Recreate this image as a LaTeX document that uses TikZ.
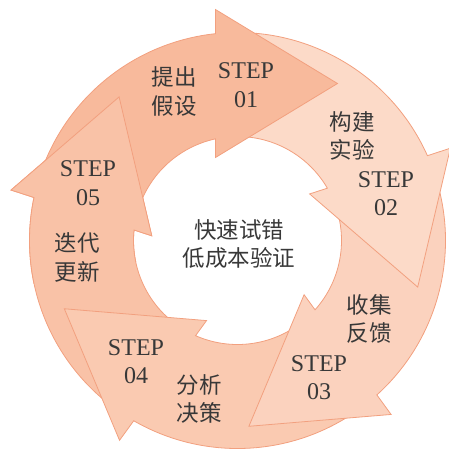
\documentclass[tikz,border=0pt]{standalone}
\usepackage{fontspec}
\setmainfont{Liberation Serif}
\newfontfamily\cjk{Noto Sans CJK SC}
\definecolor{aone}{HTML}{F8BA9C}
\definecolor{atwo}{HTML}{FCDAC8}
\definecolor{athree}{HTML}{FBD2BE}
\definecolor{afour}{HTML}{FACAB1}
\definecolor{afive}{HTML}{F9C2A7}
\definecolor{edgec}{HTML}{F2A07F}
\definecolor{txt}{HTML}{383838}
% one curved arrow of the cycle: #1 = angle of its head's tangent point, #2 = fill
\newcommand\cyclearrow[2]{%
  \pgfmathsetmacro\aT{#1+72}%
  \pgfmathsetmacro\aO{#1+6.07}%
  \pgfmathsetmacro\aI{#1+12.21}%
  \pgfmathsetmacro\aB{#1+5.44}%
  \pgfmathsetmacro\aP{#1-32.49}%
  \pgfmathsetmacro\aN{#1+14.85}%
  \path[ring, fill=#2, shift={(C)}]
    (\aT:208pt) arc[start angle=\aT, end angle=\aO, radius=208pt]
    -- (\aB:232.04pt) -- (\aP:186.14pt) -- (\aN:85.87pt)
    -- (\aI:104pt) arc[start angle=\aI, end angle=\aT, radius=104pt] -- cycle;
}
\begin{document}
\begin{tikzpicture}[x=1pt,y=1pt,
  ring/.style={draw=edgec, line width=0.8pt, line join=miter},
  steplbl/.style={font=\fontsize{24}{28.5}\selectfont, text=txt, align=center, inner sep=0pt},
  cnlbl/.style={font=\cjk\fontsize{22.5}{28.5}\selectfont, text=txt, align=center, inner sep=0pt}]
\useasboundingbox (0,0) rectangle (449,-448);
\coordinate (C) at (237.5,-240.5);
% arrows, each head lying over the tail of the next one
\cyclearrow{-198}{afive}
\cyclearrow{-126}{afour}
\cyclearrow{-54}{athree}
\cyclearrow{18}{atwo}
\cyclearrow{90}{aone}
% head of step 05 goes over the tail of step 01
\begin{scope}
  \clip[shift={(C)}] (0pt,0pt) -- (112:400pt) arc[start angle=112, end angle=192, radius=400pt] -- cycle;
  \cyclearrow{-198}{afive}
\end{scope}
% labels
\node[steplbl] (s1) at (246,-85) {STEP\\01};
\node[cnlbl]   (t1) at (174,-91.5) {提出\\假设};
\node[cnlbl]   (t2) at (352,-136) {构建\\实验};
\node[steplbl] (s2) at (386,-193.5) {STEP\\02};
\node[cnlbl]   (t3) at (369,-319) {收集\\反馈};
\node[steplbl] (s3) at (319,-377.5) {STEP\\03};
\node[steplbl] (s4) at (136,-361.5) {STEP\\04};
\node[cnlbl]   (t4) at (199,-399) {分析\\决策};
\node[steplbl] (s5) at (88,-183) {STEP\\05};
\node[cnlbl]   (t5) at (77,-257.5) {迭代\\更新};
\node[cnlbl]   (mid) at (239,-244) {快速试错\\低成本验证};
\end{tikzpicture}
\end{document}
